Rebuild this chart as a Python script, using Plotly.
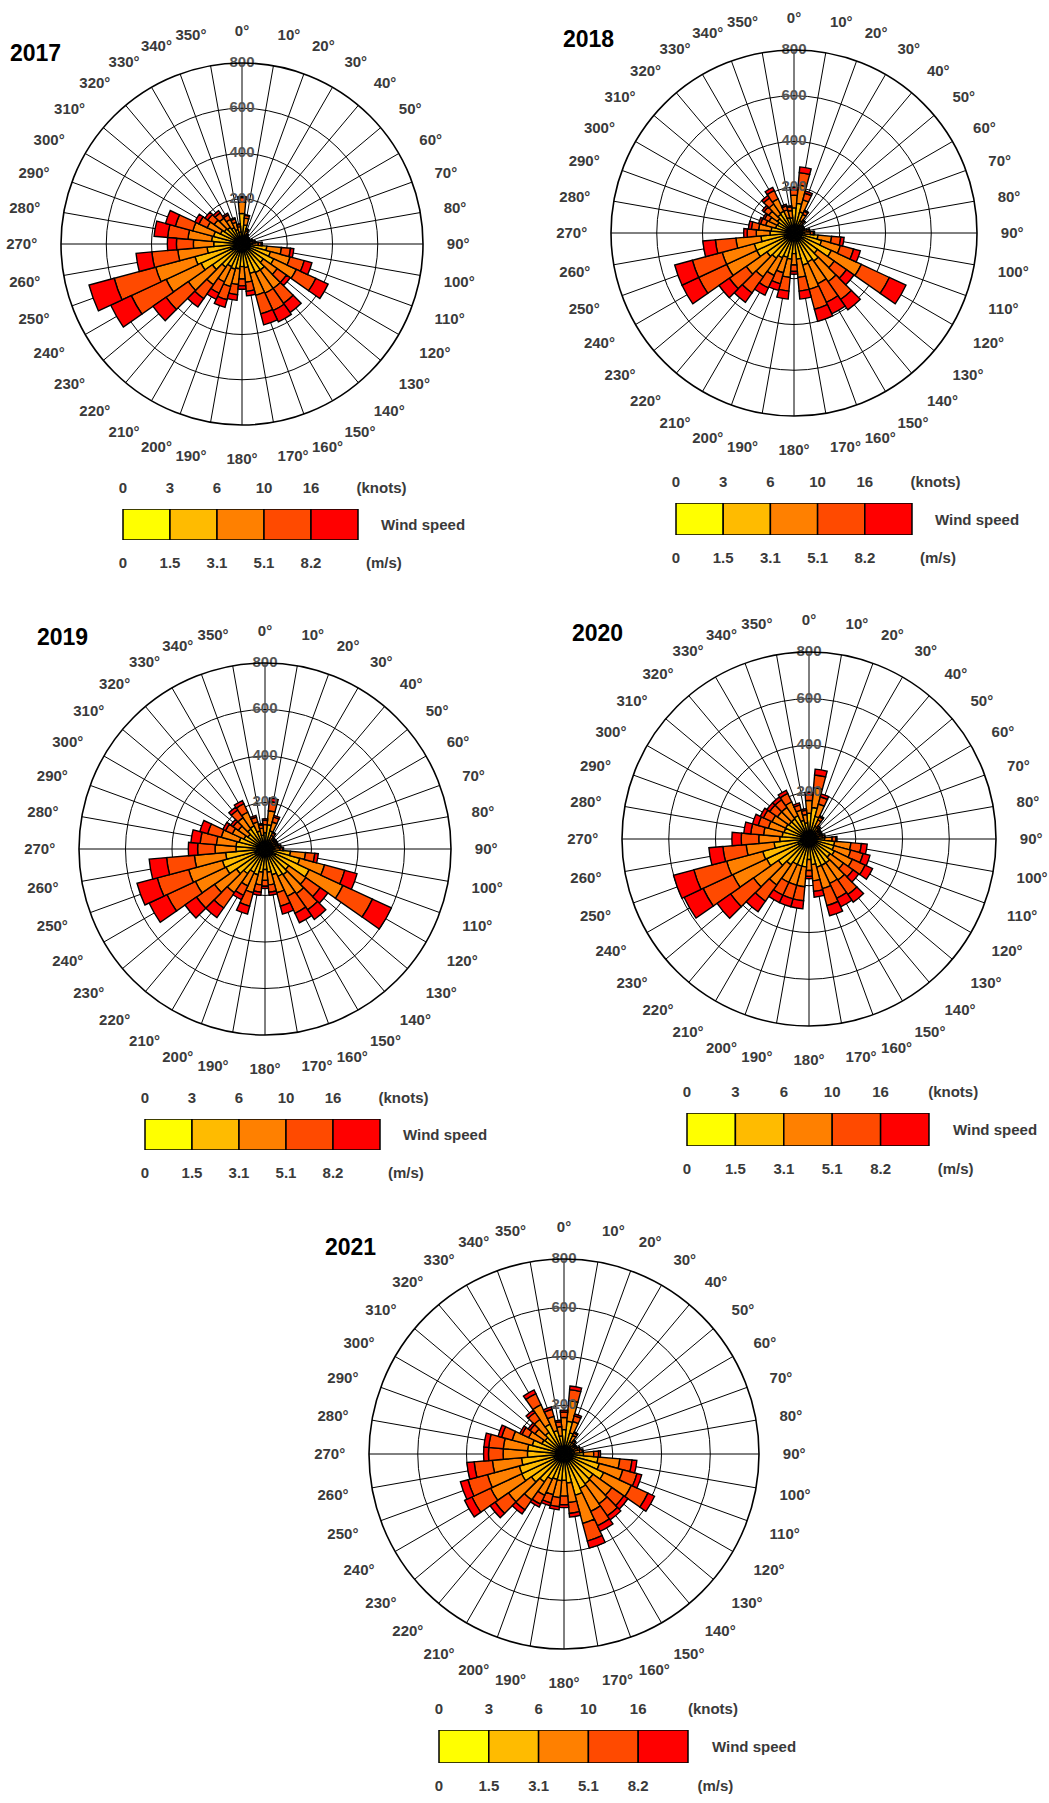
import plotly.graph_objects as go

# ---------------- data ----------------
directions = [0, 10, 20, 30, 40, 50, 60, 70, 80, 90, 100, 110, 120, 130, 140, 150, 160, 170,
              180, 190, 200, 210, 220, 230, 240, 250, 260, 270, 280, 290, 300, 310, 320, 330, 340, 350]
angle_labels = [f"{d}°" for d in directions]

years = ["2017", "2018", "2019", "2020", "2021"]
speed_classes = ["0-1.5 m/s", "1.5-3.1 m/s", "3.1-5.1 m/s", "5.1-8.2 m/s", ">8.2 m/s"]
class_colors = ["#FFFF00", "#FFBB00", "#FF8000", "#FF4A00", "#FF0000"]
knots_labels = ["0", "3", "6", "10", "16"]
ms_labels = ["0", "1.5", "3.1", "5.1", "8.2"]
radial_ticks = [200, 400, 600, 800]
legend_box_height = [1, 1, 1, 1, 1]

# counts per direction for each speed class (stacked from the centre outwards)
s17_c1 = [45,30,15,10,10,10,10,10,12,15,30,35,40,30,35,35,35,30,30,30,30,30,35,40,50,55,40,35,35,35,30,30,30,25,22,18]
s17_c2 = [90,55,25,20,15,15,15,20,22,32,80,95,115,85,105,105,100,75,70,80,85,80,90,120,150,160,115,90,100,95,75,65,60,55,45,35]
s17_c3 = [50,30,20,14,10,10,10,13,16,25,65,90,110,75,100,100,100,65,55,70,80,75,95,130,170,180,130,90,105,95,65,55,50,40,32,24]
s17_c4 = [20,12,8,5,4,4,4,5,7,13,40,65,95,50,80,85,85,40,30,45,60,55,75,120,170,190,115,75,90,80,40,35,28,22,16,10]
s17_c5 = [5,3,2,1,1,1,1,2,3,5,15,35,60,20,50,55,50,20,15,25,35,30,45,70,100,115,70,40,60,45,20,15,12,8,5,3]

s18_c1 = [35,40,30,20,15,10,10,10,15,15,30,35,45,35,40,35,40,30,30,30,30,35,35,40,45,45,40,30,30,28,25,28,30,30,22,22]
s18_c2 = [75,90,65,40,25,20,20,20,25,32,75,90,135,90,110,105,105,85,60,85,80,85,100,105,135,135,105,75,70,55,55,60,70,75,48,45]
s18_c3 = [55,80,55,30,18,13,13,13,18,25,60,85,145,90,110,105,110,80,50,80,70,85,100,110,145,145,110,60,55,45,40,47,55,60,35,32]
s18_c4 = [25,55,30,15,9,5,5,5,9,13,40,60,135,65,95,90,90,60,28,60,50,60,85,90,135,135,90,40,32,23,22,25,32,40,18,16]
s18_c5 = [10,25,10,5,3,2,2,2,3,5,15,30,80,40,55,55,55,35,12,35,30,35,50,55,80,80,55,15,13,9,8,10,13,15,7,5]

s19_c1 = [22,30,25,15,12,12,12,12,15,15,30,40,50,35,35,35,30,30,28,30,30,30,35,40,45,45,40,35,35,30,30,30,30,30,25,20]
s19_c2 = [48,75,55,28,22,22,22,22,25,28,80,115,160,90,100,95,85,70,60,70,85,80,95,110,140,145,130,90,90,85,70,60,75,80,55,40]
s19_c3 = [35,60,40,22,16,16,16,16,18,22,65,110,160,90,100,95,80,55,47,55,80,65,100,115,145,150,135,90,85,80,55,50,60,65,40,30]
s19_c4 = [18,40,22,11,7,7,7,7,9,11,40,90,140,75,85,80,60,32,25,32,60,45,80,95,135,140,120,75,70,60,32,28,40,40,22,15]
s19_c5 = [7,15,8,4,3,3,3,3,3,4,15,55,90,40,50,45,35,13,10,13,35,20,50,60,85,90,75,40,40,35,13,12,15,15,8,5]

s20_c1 = [35,40,30,20,15,12,12,12,15,22,30,30,35,30,35,35,35,30,28,35,35,35,35,40,50,50,40,35,30,30,30,30,30,30,28,22]
s20_c2 = [75,95,70,40,25,22,22,22,25,45,80,80,85,80,90,90,90,80,60,85,85,85,100,120,150,155,110,90,85,80,80,75,75,80,55,48]
s20_c3 = [55,85,55,30,18,16,16,16,18,32,70,75,85,70,90,85,95,70,47,85,85,85,105,130,160,160,120,90,80,70,65,60,60,65,45,35]
s20_c4 = [25,55,32,15,9,7,7,7,9,16,45,55,60,50,75,70,75,45,25,60,60,60,85,120,140,145,100,75,55,45,40,40,40,40,23,18]
s20_c5 = [10,25,13,5,3,3,3,3,3,5,25,30,35,30,40,40,45,25,10,35,35,35,55,70,90,90,60,40,30,25,15,15,15,15,9,7]

s21_c1 = [30,35,28,18,15,12,12,15,15,25,35,35,40,35,35,35,40,30,30,30,30,30,35,38,42,42,40,35,35,35,30,30,30,35,30,25]
s21_c2 = [70,100,62,38,25,22,22,25,28,55,105,115,140,110,115,120,135,90,78,80,78,85,105,125,150,148,135,115,115,100,70,65,78,100,70,50]
s21_c3 = [50,85,48,28,18,16,16,18,22,42,90,100,125,95,100,105,120,80,65,70,65,72,90,115,140,135,120,100,100,85,60,50,65,88,60,38]
s21_c4 = [22,45,24,12,9,7,7,9,11,20,50,60,75,60,60,65,75,45,35,37,35,40,50,67,85,83,75,60,60,45,30,25,35,50,30,20]
s21_c5 = [8,15,8,4,3,3,3,3,4,8,20,20,30,20,20,25,30,15,12,13,12,13,20,25,33,32,30,20,20,15,10,10,12,17,10,7]

year_series = {
    "2017": [s17_c1, s17_c2, s17_c3, s17_c4, s17_c5],
    "2018": [s18_c1, s18_c2, s18_c3, s18_c4, s18_c5],
    "2019": [s19_c1, s19_c2, s19_c3, s19_c4, s19_c5],
    "2020": [s20_c1, s20_c2, s20_c3, s20_c4, s20_c5],
    "2021": [s21_c1, s21_c2, s21_c3, s21_c4, s21_c5],
}

# ---------------- layout geometry (pixels) ----------------
W, H = 1049, 1803
rose_geom = {  # centre x, centre y, radius
    "2017": (242, 244, 181),
    "2018": (794, 233, 183),
    "2019": (265, 849, 186),
    "2020": (809, 839, 187),
    "2021": (564, 1454, 195),
}
title_pos = {  # left x, centre y
    "2017": (8, 53),
    "2018": (561, 39),
    "2019": (35, 637),
    "2020": (570, 633),
    "2021": (323, 1247),
}
legend_box = {  # x0, x1, y0, y1 of the colour strip
    "2017": (123, 358, 509, 540),
    "2018": (676, 912, 503, 535),
    "2019": (145, 380, 1119, 1150),
    "2020": (687, 929, 1113, 1146),
    "2021": (439, 688, 1730, 1763),
}

LABEL_FONT = "Liberation Sans, Arial, sans-serif"
GREY = "#3a3a3a"

fig = go.Figure()
layout = dict(
    width=W, height=H, autosize=False,
    margin=dict(l=0, r=0, t=0, b=0),
    paper_bgcolor="white", plot_bgcolor="white",
    showlegend=False,
    annotations=[],
)

for i, yr in enumerate(years):
    pid = "polar" if i == 0 else f"polar{i+1}"
    cx, cy, R = rose_geom[yr]
    layout[pid] = dict(
        domain=dict(x=[(cx - R) / W, (cx + R) / W], y=[1 - (cy + R) / H, 1 - (cy - R) / H]),
        bgcolor="white",
        barmode="stack",
        angularaxis=dict(
            rotation=90, direction="clockwise",
            tickmode="array", tickvals=directions, ticktext=angle_labels,
            showline=True, linecolor="black", linewidth=1.6,
            showgrid=True, gridcolor="black", gridwidth=1.1,
            ticks="outside", ticklen=20, tickcolor="rgba(0,0,0,0)",
            tickfont=dict(family=LABEL_FONT, size=15, color=GREY, weight="bold"),
        ),
        radialaxis=dict(
            range=[0, 800], tickvals=radial_ticks[:-1], showticklabels=False,
            showline=False, ticks="", gridcolor="black", gridwidth=1.2,
        ),
    )
    for k, vals in enumerate(year_series[yr]):
        fig.add_trace(go.Barpolar(
            r=vals, theta=directions, width=10, subplot=pid,
            name=speed_classes[k],
            marker=dict(color=class_colors[k], line=dict(color="black", width=1.4)),
            hoverinfo="r+theta+name",
        ))
    fig.add_trace(go.Scatterpolar(
        r=radial_ticks, theta=[0] * len(radial_ticks), subplot=pid,
        mode="text", text=[str(v) for v in radial_ticks], textposition="middle center",
        textfont=dict(family=LABEL_FONT, size=15, color="#555555", weight="bold"),
        hoverinfo="skip",
    ))

    # year title
    tx, ty = title_pos[yr]
    layout["annotations"].append(dict(
        text=yr, x=tx / W, y=1 - ty / H, xref="paper", yref="paper",
        xanchor="left", yanchor="middle", showarrow=False,
        font=dict(family=LABEL_FONT, size=23, color="black", weight="bold"),
    ))

    # legend strip
    x0, x1, y0, y1 = legend_box[yr]
    u = (x1 - x0) / 5.0
    lo, hi = -0.8, 6.0
    dom_x = [(x0 + (lo + 0.5) * u) / W, (x0 + (hi + 0.5) * u) / W]
    dom_y = [1 - y1 / H, 1 - y0 / H]
    xb = 2 * i + 1
    xt = 2 * i + 2
    yid = i + 1
    xb_name = "xaxis" if xb == 1 else f"xaxis{xb}"
    xt_name = f"xaxis{xt}"
    y_name = "yaxis" if yid == 1 else f"yaxis{yid}"
    xb_ref = "x" if xb == 1 else f"x{xb}"
    xt_ref = f"x{xt}"
    y_ref = "y" if yid == 1 else f"y{yid}"
    tickfont = dict(family=LABEL_FONT, size=15, color=GREY, weight="bold")
    layout[xb_name] = dict(
        domain=dom_x, range=[lo, hi], anchor=y_ref, side="bottom",
        tickmode="array", tickvals=[-0.5, 0.5, 1.5, 2.5, 3.5, 5.05],
        ticktext=ms_labels + ["(m/s)"],
        showgrid=False, zeroline=False, showline=False,
        ticks="outside", ticklen=9, tickcolor="rgba(0,0,0,0)", tickfont=tickfont,
    )
    layout[xt_name] = dict(
        domain=dom_x, range=[lo, hi], anchor=y_ref, overlaying=xb_ref, side="top",
        tickmode="array", tickvals=[-0.5, 0.5, 1.5, 2.5, 3.5, 5.0],
        ticktext=knots_labels + ["(knots)"],
        showgrid=False, zeroline=False, showline=False,
        ticks="outside", ticklen=9, tickcolor="rgba(0,0,0,0)", tickfont=tickfont,
    )
    layout[y_name] = dict(domain=dom_y, range=[0, 1], anchor=xb_ref, visible=False, fixedrange=True)
    # transparent copy on the knots axis so that axis is drawn
    fig.add_trace(go.Bar(
        x=[0, 1, 2, 3, 4], y=legend_box_height, width=1, xaxis=xt_ref, yaxis=y_ref,
        marker=dict(color="rgba(0,0,0,0)", line=dict(width=0)), hoverinfo="skip",
    ))
    fig.add_trace(go.Bar(
        x=[0, 1, 2, 3, 4], y=legend_box_height, width=1, xaxis=xb_ref, yaxis=y_ref,
        marker=dict(color=class_colors, line=dict(color="black", width=1.5)),
        hovertext=speed_classes, hoverinfo="text",
    ))
    layout["annotations"].append(dict(
        text="Wind speed", x=4.95, y=0.5, xref=xb_ref, yref=y_ref,
        xanchor="left", yanchor="middle", showarrow=False,
        font=dict(family=LABEL_FONT, size=15, color=GREY, weight="bold"),
    ))

layout["barmode"] = "overlay"
fig.update_layout(**layout)
fig.write_html("out.html", config={"displayModeBar": False},
               post_script="document.body.style.margin='0px';")
